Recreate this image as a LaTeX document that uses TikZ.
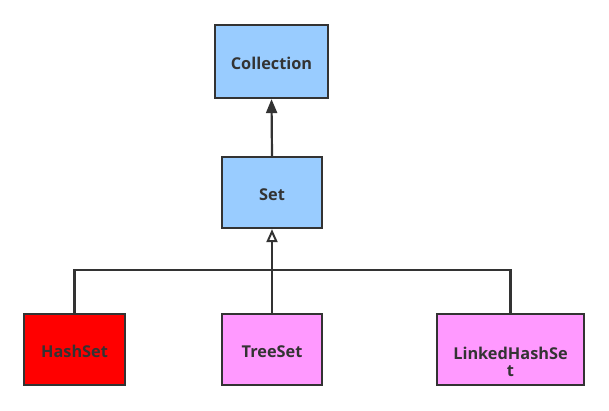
\documentclass[tikz,border=0pt]{standalone}
\usepackage{fontspec}
\setmainfont{Open Sans}
\usetikzlibrary{arrows.meta}
\definecolor{ink}{HTML}{333333}
\definecolor{lblue}{HTML}{99CCFF}
\definecolor{pinkf}{HTML}{FF99FF}
\definecolor{redf}{HTML}{FF0000}
\newcommand{\lowtext}[2]{\raisebox{-#1}[\height][\depth]{#2}}
\begin{document}
\begin{tikzpicture}[x=1pt,y=-1pt,
  box/.style={draw=ink,line width=2.2pt,text=ink,font=\fontsize{16.3}{21}\selectfont\bfseries,align=center,inner sep=0pt},
  conn/.style={draw=ink,line width=2.2pt}]
\useasboundingbox (0,0) rectangle (609,410);
\node[box,fill=lblue,minimum width=113pt,minimum height=73pt] (coll) at (271.5,61.5) {\lowtext{2pt}{Collection}};
\node[box,fill=lblue,minimum width=100pt,minimum height=71pt] (set) at (272,192.5) {\lowtext{2pt}{Set}};
\node[box,fill=redf,minimum width=101pt,minimum height=71pt] (hash) at (74.5,349.5) {\lowtext{2pt}{HashSet}};
\node[box,fill=pinkf,minimum width=100pt,minimum height=71pt] (tree) at (272,349.5) {\lowtext{2pt}{TreeSet}};
\node[box,fill=pinkf,minimum width=147pt,minimum height=71pt] (linked) at (510.5,349.5) {\lowtext{12pt}{\parbox{140pt}{\centering\baselineskip=17pt LinkedHashSe\\t}}};
\coordinate (junc) at (272,270);
\draw[conn,-{Triangle[length=14pt,width=11pt]}] (set.north) -- (coll.south);
\draw[conn,-{Triangle[open,length=13pt,width=11pt,line width=2pt]}] (tree.north) -- (set.south);
\draw[conn] (hash.north) |- (junc);
\draw[conn] (linked.north) |- (junc);
\end{tikzpicture}
\end{document}
